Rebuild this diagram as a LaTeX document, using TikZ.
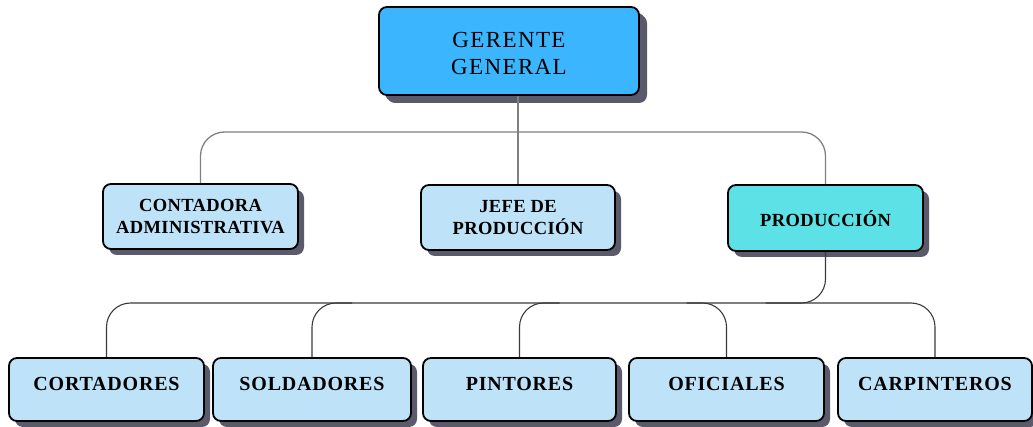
\documentclass[tikz,border=0pt]{standalone}
\usepackage{fontspec}
\setmainfont{Liberation Serif}
\usetikzlibrary{shadows}
\definecolor{gerblue}{HTML}{3BB5FD}
\definecolor{lightbox}{HTML}{BEE3F8}
\definecolor{prodcyan}{HTML}{5CE1E6}
\definecolor{shadowgray}{HTML}{5A5A6B}
\definecolor{linegray}{HTML}{808080}
\definecolor{linedark}{HTML}{3A3A3A}
\tikzset{
  orgbox/.style={draw=black, line width=1.8pt, rounded corners=8pt, fill=lightbox,
    inner sep=0pt, minimum height=64pt,
    drop shadow={shadow xshift=6pt, shadow yshift=-6pt, fill=shadowgray, opacity=1}},
  midtxt/.style={font=\fontsize{18.5}{22}\selectfont\bfseries\addfontfeature{LetterSpace=2}, align=center, inner sep=0pt},
  bottxt/.style={font=\fontsize{20}{23}\selectfont\bfseries\addfontfeature{LetterSpace=4}, align=center, inner sep=0pt},
  toptxt/.style={font=\fontsize{23}{26.5}\selectfont\addfontfeature{LetterSpace=6}, align=center, inner sep=0pt},
  topline/.style={draw=linegray, line width=1.3pt, rounded corners=24pt},
  botline/.style={draw=linedark, line width=1.1pt, rounded corners=24pt}
}
\begin{document}
\begin{tikzpicture}[x=1pt,y=-1pt]
\useasboundingbox (0,0) rectangle (1033,427);
% boxes
\node[orgbox, fill=gerblue, minimum width=260pt, minimum height=88pt,
  drop shadow={shadow xshift=8pt, shadow yshift=-8pt, fill=shadowgray, opacity=1},
  label={[toptxt, yshift=-2.5pt]center:GERENTE\\GENERAL}] (ger) at (509,51) {};
\node[orgbox, minimum width=195pt, minimum height=65pt,
  label={[midtxt]center:CONTADORA\\ADMINISTRATIVA}] (cont) at (200.5,216.5) {};
\node[orgbox, minimum width=194pt, minimum height=65pt,
  label={[midtxt]center:JEFE DE\\PRODUCCIÓN}] (jefe) at (518,217.5) {};
\node[orgbox, fill=prodcyan, minimum width=195pt, minimum height=66pt,
  label={[midtxt, yshift=-1pt]center:PRODUCCIÓN}] (prod) at (825.5,218) {};
\node[orgbox, minimum width=195pt, minimum height=63pt,
  label={[bottxt, yshift=5.5pt]center:CORTADORES}] (cort) at (106.5,389.5) {};
\node[orgbox, minimum width=198pt, minimum height=63pt,
  label={[bottxt, yshift=5.5pt]center:SOLDADORES}] (sold) at (312,389.5) {};
\node[orgbox, minimum width=193pt, minimum height=63pt,
  label={[bottxt, yshift=5.5pt]center:PINTORES}] (pint) at (519.5,389.5) {};
\node[orgbox, minimum width=195pt, minimum height=63pt,
  label={[bottxt, yshift=5.5pt]center:OFICIALES}] (ofic) at (726.5,389.5) {};
\node[orgbox, minimum width=194pt, minimum height=63pt,
  label={[bottxt, yshift=5.5pt]center:CARPINTEROS}] (carp) at (935,389.5) {};
% hubs
\coordinate (hubA) at (518,132);
\coordinate (hubB) at (826,303);
% top connectors
\draw[topline] (cont.north) -- (cont.north |- hubA) -- (prod.north |- hubA) -- (prod.north);
\draw[topline] (jefe.north |- ger.south) -- (jefe.north);
% bottom connectors
\draw[botline] (prod.south) -- (prod.south |- hubB) -- ++(-60,0);
\draw[botline] (cort.north) -- (cort.north |- hubB) -- (carp.north |- hubB) -- (carp.north);
\draw[botline] (sold.north) -- (sold.north |- hubB) -- ++(40,0);
\draw[botline] (pint.north) -- (pint.north |- hubB) -- ++(40,0);
\draw[botline] (ofic.north) -- (ofic.north |- hubB) -- ++(-40,0);
\end{tikzpicture}
\end{document}
